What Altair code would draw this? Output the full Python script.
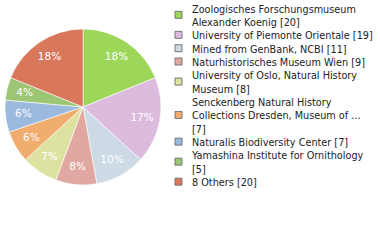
import altair as alt
import pandas as pd
import math

labels = [
    "Zoologisches Forschungsmuseum|Alexander Koenig [20]",
    "University of Piemonte Orientale [19]",
    "Mined from GenBank, NCBI [11]",
    "Naturhistorisches Museum Wien [9]",
    "University of Oslo, Natural History|Museum [8]",
    "Senckenberg Natural History|Collections Dresden, Museum of ...|[7]",
    "Naturalis Biodiversity Center [7]",
    "Yamashina Institute for Ornithology|[5]",
    "8 Others [20]",
]
counts = [20, 19, 11, 9, 8, 7, 7, 5, 20]
colors = ["#9dd75a", "#dcbbde", "#cddae6", "#e0a8a0", "#dde2a0",
          "#f0ad6e", "#9cb9de", "#9cc574", "#d9775a"]

total = sum(counts)
pcts = [f"{math.floor(c * 100 / total)}%" for c in counts]

df = pd.DataFrame({"label": labels, "count": counts, "pct": pcts,
                   "idx": list(range(len(labels)))})

# legend tables: one row per text line, one row per entry symbol
line_rows, sym_rows = [], []
k = 0
for i, lab in enumerate(labels):
    parts = lab.split("|")
    for j, p in enumerate(parts):
        line_rows.append({"text": p, "line": k + j})
    sym_rows.append({"label": lab, "line": k + (len(parts) - 1) / 2 - 0.1})
    k += len(parts)
lines_df = pd.DataFrame(line_rows)
sym_df = pd.DataFrame(sym_rows)

color_scale = alt.Scale(domain=labels, range=colors)
yscale = alt.Scale(domain=[0, k - 1], range=[9.5, 183])

base = alt.Chart(df).encode(
    theta=alt.Theta("count:Q", stack=True),
    order=alt.Order("idx:Q"),
    x=alt.value(83),
    y=alt.value(107),
)

pie = base.mark_arc(outerRadius=78, stroke="white", strokeWidth=0.6).encode(
    color=alt.Color("label:N", scale=color_scale, legend=None)
)

text = base.mark_text(radius=60, color="white", font="DejaVu Sans",
                      fontSize=10.5).encode(text="pct:N")

legend_sym = alt.Chart(sym_df).mark_square(
    size=49, opacity=1, stroke="#777777", strokeWidth=1
).encode(
    x=alt.value(178.5),
    y=alt.Y("line:Q", scale=yscale, axis=None),
    color=alt.Color("label:N", scale=color_scale, legend=None),
)

legend_txt = alt.Chart(lines_df).mark_text(
    align="left", baseline="middle", font="DejaVu Sans", fontSize=9.7,
    color="#222222"
).encode(
    x=alt.value(192),
    y=alt.Y("line:Q", scale=yscale, axis=None),
    text="text:N",
)

chart = (pie + text + legend_sym + legend_txt).properties(
    width=380, height=240, autosize=alt.AutoSizeParams(type="none"),
    padding=0, background="white"
).configure_view(stroke=None)

chart.save("out.html", embed_options={"renderer": "svg", "actions": False})
